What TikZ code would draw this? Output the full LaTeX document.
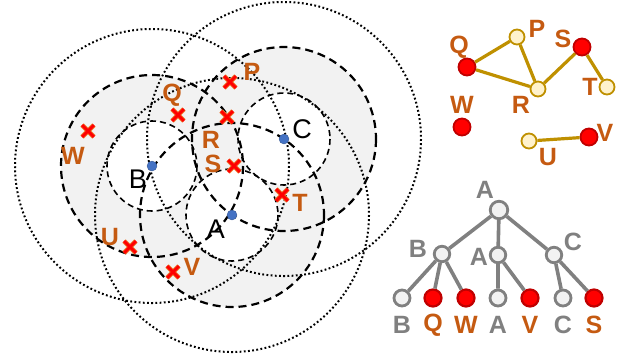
\documentclass[tikz,border=0pt]{standalone}
\usepackage{fontspec}
\setmainfont{Liberation Sans}
\usetikzlibrary{shapes.misc}
\definecolor{orng}{HTML}{C55A11}
\definecolor{gold}{HTML}{BF9000}
\definecolor{lyel}{HTML}{FFF2CC}
\definecolor{dred}{HTML}{C00000}
\definecolor{bluedot}{HTML}{4472C4}
\definecolor{tgray}{HTML}{808080}
\definecolor{lgray}{HTML}{F2F2F2}
\definecolor{xorng}{HTML}{ED7D31}
\tikzset{
  smallc/.style={draw=black, line width=1.6pt, dash pattern=on 6pt off 4pt},
  medc/.style={draw=black, line width=2.2pt, dash pattern=on 8pt off 5pt},
  largec/.style={draw=black, line width=2pt, dash pattern=on 1.8pt off 2.4pt},
  ctr/.style={circle, fill=bluedot, draw=bluedot!70!black, line width=0.3pt, inner sep=0pt, minimum size=10pt},
  xm/.style={cross out, draw=xorng, double=red, double distance=3pt, line width=0.9pt, inner sep=0pt, minimum size=11pt},
  olab/.style={text=orng, font=\fontsize{25}{28}\selectfont\bfseries, inner sep=0pt},
  blab/.style={text=black, font=\fontsize{27}{30}\selectfont, inner sep=0pt},
  glab/.style={text=tgray, font=\fontsize{25}{28}\selectfont\bfseries, inner sep=0pt},
  rnode/.style={circle, fill=red, draw=dred, line width=1.8pt, inner sep=0pt, minimum size=17pt},
  ynode/.style={circle, fill=lyel, draw=gold, line width=1.8pt, inner sep=0pt, minimum size=15pt},
  tnode/.style={circle, fill=lgray, draw=tgray, line width=2.8pt, inner sep=0pt, minimum size=16pt},
  trnode/.style={circle, fill=red, draw=dred, line width=2.2pt, inner sep=0pt, minimum size=17pt},
  gedge/.style={draw=gold, line width=3.2pt},
  tedge/.style={draw=tgray, line width=3.6pt},
}
\begin{document}
\begin{tikzpicture}[x=1pt,y=-1pt]
\useasboundingbox (0,0) rectangle (631,360);
% centres
\coordinate (cB) at (152,166);
\coordinate (cA) at (232,215);
\coordinate (cC) at (284,139);
% fills
\fill[lgray] (cB) circle (91) (cA) circle (92) (cC) circle (92);
\fill[white] (cB) circle (45) (cA) circle (46) (cC) circle (46);
% circles
\foreach \c/\r in {cB/45,cA/46,cC/46} \draw[smallc] (\c) circle (\r);
\foreach \c/\r in {cB/91,cA/92,cC/92} \draw[medc] (\c) circle (\r);
\foreach \c in {cB,cA,cC} \draw[largec] (\c) circle (137);
% centre dots and labels
\node[ctr] (dB) at (cB) {};
\node[ctr] (dA) at (cA) {};
\node[ctr] (dC) at (cC) {};
\node[blab] (lB) at (138,179) {B};
\node[blab] (lA) at (216,229) {A};
\node[blab] (lC) at (302,129) {C};
% crosses
\node[xm] (xP) at (230,82) {};
\node[xm] (xQ) at (178,115) {};
\node[xm] (xR) at (227,117) {};
\node[xm] (xS) at (234,166) {};
\node[xm] (xT) at (282,195) {};
\node[xm] (xW) at (88,131) {};
\node[xm] (xU) at (130,247) {};
\node[xm] (xV) at (173,272) {};
\node[olab] (tP) at (252,72) {P};
\node[olab] (tQ) at (172,95) {Q};
\node[olab] (tR) at (211,140) {R};
\node[olab] (tS) at (213,164) {S};
\node[olab] (tT) at (300,203) {T};
\node[olab] (tW) at (73,156) {W};
\node[olab] (tU) at (110,237) {U};
\node[olab] (tV) at (192,267) {V};
% graph
\node[rnode] (gQ) at (467,67) {};
\node[ynode] (gP) at (517,37) {};
\node[ynode] (gR) at (538,89) {};
\node[rnode] (gS) at (582,47) {};
\node[ynode] (gT) at (607,87) {};
\node[rnode] (gW) at (462,127) {};
\node[ynode] (gU) at (529,141) {};
\node[rnode] (gV) at (589,137) {};
\draw[gedge] (gQ) -- (gP) (gQ) -- (gR) (gP) -- (gR) (gR) -- (gS) (gS) -- (gT) (gU) -- (gV);
\node[olab] at (459,47) (gtQ) {Q};
\node[olab] at (537,29) (gtP) {P};
\node[olab] at (563,39) (gtS) {S};
\node[olab] at (590,87) (gtT) {T};
\node[olab] at (521,105) (gtR) {R};
\node[olab] at (462,105) (gtW) {W};
\node[olab] at (548,157) (gtU) {U};
\node[olab] at (605,133) (gtV) {V};
% tree
\node[tnode, minimum size=17.5pt] (r) at (499,210) {};
\node[tnode, minimum size=15.5pt] (nB) at (442,254) {};
\node[tnode, minimum size=15.5pt] (nA) at (498,255) {};
\node[tnode, minimum size=15.5pt] (nC) at (554,255) {};
\node[tnode] (l1) at (402,298) {};
\node[trnode] (l2) at (433,298) {};
\node[trnode] (l3) at (466,298) {};
\node[tnode] (l4) at (498,298) {};
\node[trnode] (l5) at (530,298) {};
\node[tnode] (l6) at (563,298) {};
\node[trnode] (l7) at (594,298) {};
\draw[tedge] (r) -- (nB) (r) -- (nA) (r) -- (nC)
  (nB) -- (l1) (nB) -- (l2) (nB) -- (l3)
  (nA) -- (l4) (nA) -- (l5)
  (nC) -- (l6) (nC) -- (l7);
\node[glab] (trA) at (485,190) {A};
\node[glab] (tnB) at (418,249) {B};
\node[glab] (tnA) at (479,257) {A};
\node[glab] (tnC) at (573,242) {C};
\node[glab] (tl1) at (402,325) {B};
\node[olab] (tl2) at (433,325) {Q};
\node[olab] (tl3) at (466,325) {W};
\node[glab] (tl4) at (498,325) {A};
\node[olab] (tl5) at (530,325) {V};
\node[glab] (tl6) at (563,325) {C};
\node[olab] (tl7) at (594,325) {S};
\end{tikzpicture}
\end{document}
